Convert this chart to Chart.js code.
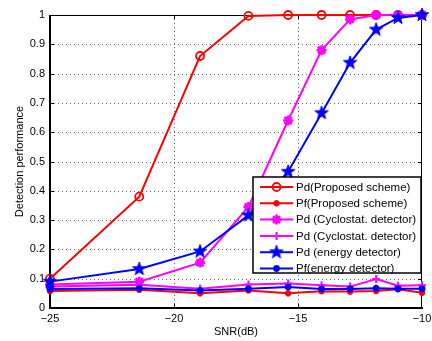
<!DOCTYPE html>
<html><head><meta charset="utf-8">
<script src="https://cdn.jsdelivr.net/npm/chart.js@4.4.0/dist/chart.umd.min.js"></script>
<style>html,body{margin:0;padding:0;background:#fff;}#wrap{width:432px;height:341px;}</style>
</head><body><div id="wrap"><canvas id="c" width="432" height="341"></canvas></div>
<script>
// ---- data ----
const snr = [-25, -21.4, -18.95, -17, -15.4, -14.05, -12.9, -11.85, -10.97, -10];
const pdProposed = [0.10, 0.38, 0.86, 0.997, 1.0, 1.0, 1.0, 1.0, 1.0, 1.0];
const pfProposed = [0.058, 0.062, 0.05, 0.06, 0.05, 0.057, 0.056, 0.058, 0.064, 0.052];
const pdCyclo = [0.08, 0.09, 0.155, 0.345, 0.64, 0.88, 0.985, 1.0, 1.0, 1.0];
const pfCyclo = [0.073, 0.079, 0.066, 0.08, 0.084, 0.078, 0.073, 0.099, 0.076, 0.078];
const pdEnergy = [0.09, 0.133, 0.193, 0.316, 0.465, 0.665, 0.837, 0.95, 0.99, 1.0];
const pfEnergy = [0.065, 0.067, 0.06, 0.066, 0.072, 0.065, 0.065, 0.067, 0.066, 0.066];
const seriesLabels = ['Pd(Proposed scheme)', 'Pf(Proposed scheme)', 'Pd (Cyclostat. detector)', 'Pd (Cyclostat. detector)', 'Pd (energy detector)', 'Pf(energy detector)'];
const xTickValues = [-25, -20, -15, -10];
const xTickLabels = ['\u221225', '\u221220', '\u221215', '\u221210'];
const yTickValues = [0, 0.1, 0.2, 0.3, 0.4, 0.5, 0.6, 0.7, 0.8, 0.9, 1];
const yTickLabels = ['0', '0.1', '0.2', '0.3', '0.4', '0.5', '0.6', '0.7', '0.8', '0.9', '1'];
const xTitle = 'SNR(dB)';
const yTitle = 'Detection performance';

// ---- styling ----
const FONT = '"Liberation Sans", Arial, Helvetica, sans-serif';
Chart.defaults.font.family = FONT;
Chart.defaults.color = '#000';

function pentagram(color, r) {
  const s = Math.ceil(r * 2 + 2), c = document.createElement('canvas');
  c.width = s; c.height = s;
  const g = c.getContext('2d'), cx = s / 2, cy = s / 2, ri = r * 0.40;
  g.beginPath();
  for (let i = 0; i < 10; i++) {
    const ang = -Math.PI / 2 + i * Math.PI / 5, rr = i % 2 ? ri : r;
    const px = cx + rr * Math.cos(ang), py = cy + rr * Math.sin(ang);
    i ? g.lineTo(px, py) : g.moveTo(px, py);
  }
  g.closePath(); g.fillStyle = color; g.fill();
  g.lineWidth = 1; g.strokeStyle = color; g.stroke();
  return c;
}
const starImg = pentagram('#0000ff', 7);

const RED = '#ff0000', MAG = '#ff00ff', BLUE = '#0000ff';
const styles = [
  {color: RED, pointStyle: 'circle', radius: 4, bw: 1.8, fill: 'rgba(0,0,0,0)'},
  {color: RED, pointStyle: 'circle', radius: 2.8, bw: 1, fill: RED},
  {color: MAG, pointStyle: 'star', radius: 5, bw: 2.6, fill: MAG},
  {color: MAG, pointStyle: 'cross', radius: 4, bw: 2, fill: MAG},
  {color: BLUE, pointStyle: starImg, radius: 7, bw: 1, fill: BLUE},
  {color: BLUE, pointStyle: 'star', radius: 3.5, bw: 2.2, fill: BLUE},
];
const seriesValues = [pdProposed, pfProposed, pdCyclo, pfCyclo, pdEnergy, pfEnergy];

const datasets = seriesValues.map((vals, i) => ({
  label: seriesLabels[i],
  data: snr.map((x, k) => ({x, y: vals[k]})),
  borderColor: styles[i].color,
  backgroundColor: styles[i].color,
  borderWidth: 2,
  pointStyle: styles[i].pointStyle,
  pointRadius: styles[i].radius,
  pointBorderWidth: styles[i].bw,
  pointBorderColor: styles[i].color,
  pointBackgroundColor: styles[i].fill,
  tension: 0,
  clip: false,
  order: 6 - i,
}));

function drawMarker(ctx, st, x, y) {
  ctx.save();
  ctx.strokeStyle = st.color; ctx.fillStyle = st.fill; ctx.lineWidth = st.bw;
  const r = st.radius;
  if (typeof st.pointStyle !== 'string') {
    const img = st.pointStyle;
    ctx.drawImage(img, x - img.width / 2, y - img.height / 2);
  } else if (st.pointStyle === 'circle') {
    ctx.beginPath(); ctx.arc(x, y, r, 0, Math.PI * 2); ctx.fill(); ctx.stroke();
  } else {
    ctx.beginPath();
    const arms = st.pointStyle === 'star' ? 4 : 2;
    for (let k = 0; k < arms; k++) {
      const a = k * Math.PI / arms;
      ctx.moveTo(x - r * Math.cos(a), y - r * Math.sin(a));
      ctx.lineTo(x + r * Math.cos(a), y + r * Math.sin(a));
    }
    ctx.stroke();
  }
  ctx.restore();
}

const framePlugin = {
  id: 'frame',
  beforeDatasetsDraw(chart) {
    const {ctx, chartArea: a, scales: {x, y}} = chart;
    ctx.save();
    // dotted grid
    ctx.strokeStyle = 'rgba(0,0,0,0.6)'; ctx.lineWidth = 1; ctx.setLineDash([1, 3]);
    x.ticks.forEach(t => {
      if (t.value <= x.min || t.value >= x.max) return;
      const px = Math.round(x.getPixelForValue(t.value)) + 0.5;
      ctx.beginPath(); ctx.moveTo(px, a.top); ctx.lineTo(px, a.bottom); ctx.stroke();
    });
    y.ticks.forEach(t => {
      if (t.value <= y.min || t.value >= y.max) return;
      const py = Math.round(y.getPixelForValue(t.value)) + 0.5;
      ctx.beginPath(); ctx.moveTo(a.left, py); ctx.lineTo(a.right, py); ctx.stroke();
    });
    ctx.setLineDash([]);
    // frame
    ctx.fillStyle = '#000';
    const L = Math.round(a.left), R = Math.round(a.right), T = Math.round(a.top), B = Math.round(a.bottom);
    ctx.fillRect(L - 1, T, 2, B - T + 1);
    ctx.fillRect(L - 1, B - 1, R - L + 2, 2);
    ctx.fillRect(L - 1, T, R - L + 1, 1);
    ctx.fillRect(R - 1, T, 1, B - T);
    // inward ticks
    const tl = 4;
    x.ticks.forEach(t => {
      if (t.value <= x.min || t.value >= x.max) return;
      const px = Math.round(x.getPixelForValue(t.value));
      ctx.fillRect(px, B - tl, 1, tl);
      ctx.fillRect(px, T, 1, tl);
    });
    y.ticks.forEach(t => {
      if (t.value <= y.min || t.value >= y.max) return;
      const py = Math.round(y.getPixelForValue(t.value));
      ctx.fillRect(L, py, tl, 1);
      ctx.fillRect(R - tl, py, tl, 1);
    });
    ctx.restore();
  },
  afterDatasetsDraw(chart) {
    const {ctx} = chart;
    const bx = 253, by = 177, bw = 168, bh = 96;
    ctx.save();
    ctx.fillStyle = '#fff';
    ctx.fillRect(bx, by, bw, bh);
    ctx.strokeStyle = '#000'; ctx.lineWidth = 1.5;
    ctx.strokeRect(bx, by, bw, bh);
    ctx.font = '11.5px ' + FONT;
    ctx.textBaseline = 'middle'; ctx.textAlign = 'left';
    chart.data.datasets.forEach((ds, i) => {
      const yy = by + 10 + i * 16.3;
      const st = styles[i];
      ctx.strokeStyle = st.color; ctx.lineWidth = 2;
      ctx.beginPath(); ctx.moveTo(bx + 7, yy); ctx.lineTo(bx + 40, yy); ctx.stroke();
      drawMarker(ctx, st, bx + 23.5, yy);
      ctx.fillStyle = '#000';
      ctx.fillText(ds.label, bx + 43, yy + 0.5);
    });
    ctx.restore();
  }
};

new Chart(document.getElementById('c'), {
  type: 'line',
  data: {datasets},
  plugins: [framePlugin],
  options: {
    responsive: false,
    animation: false,
    devicePixelRatio: 1,
    layout: {padding: {top: 15, right: 10, left: 0, bottom: 0}},
    plugins: {legend: {display: false}, tooltip: {enabled: false}},
    scales: {
      x: {
        type: 'linear', min: -25, max: -10,
        afterBuildTicks: s => { s.ticks = xTickValues.map(v => ({value: v})); },
        afterFit: s => { s.height = 33; s.paddingLeft = 0; s.paddingRight = 0; },
        grid: {display: false, drawTicks: false},
        border: {display: false},
        ticks: {
          padding: 4, maxRotation: 0, autoSkip: false,
          font: {size: 11},
          callback: v => xTickLabels[xTickValues.indexOf(v)] ?? ''
        },
        title: {display: true, text: xTitle, font: {size: 11}, padding: {top: 0, bottom: 2}}
      },
      y: {
        type: 'linear', min: 0, max: 1,
        afterBuildTicks: s => { s.ticks = yTickValues.map(v => ({value: v})); },
        afterFit: s => { s.width = 50; s.paddingTop = 0; s.paddingBottom = 0; },
        grid: {display: false, drawTicks: false},
        border: {display: false},
        ticks: {
          padding: 5, autoSkip: false,
          font: {size: 11},
          callback: (v, idx) => yTickLabels[idx]
        },
        title: {display: true, text: yTitle, font: {size: 11}, padding: {top: 13, bottom: 0}}
      }
    }
  }
});
</script>
</body></html>
